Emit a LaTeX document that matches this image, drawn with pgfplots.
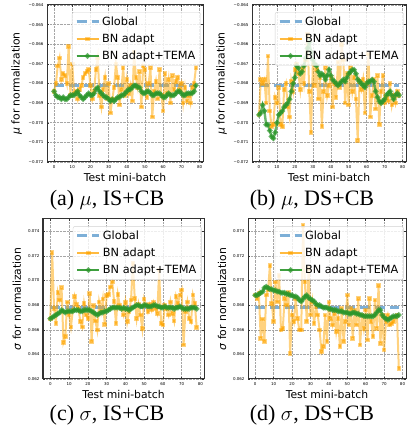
\documentclass[border=0pt]{standalone}
\usepackage{fontspec}
\setmainfont{DejaVu Sans}
\newfontfamily\capfont{Liberation Serif}
\usepackage{pgfplots}
\usepackage{pgfplotstable}
\pgfplotsset{compat=1.18}

% columns: batch, BN adapt, BN adapt+TEMA
\pgfplotstableread{
x bn tema
0 -0.0684 -0.0684
1 -0.0680 -0.0686
2 -0.0671 -0.0687
3 -0.0667 -0.0687
4 -0.0678 -0.0688
5 -0.0675 -0.0687
6 -0.0676 -0.0688
7 -0.0680 -0.0688
8 -0.0661 -0.0687
9 -0.0686 -0.0686
10 -0.0670 -0.0686
11 -0.0685 -0.0686
12 -0.0684 -0.0685
13 -0.0688 -0.0684
14 -0.0683 -0.0686
15 -0.0681 -0.0687
16 -0.0677 -0.0688
17 -0.0675 -0.0687
18 -0.0674 -0.0686
19 -0.0673 -0.0685
20 -0.0681 -0.0686
21 -0.0688 -0.0686
22 -0.0684 -0.0685
23 -0.0673 -0.0683
24 -0.0667 -0.0682
25 -0.0686 -0.0684
26 -0.0692 -0.0685
27 -0.0683 -0.0686
28 -0.0677 -0.0687
29 -0.0688 -0.0687
30 -0.0680 -0.0688
31 -0.0695 -0.0689
32 -0.0688 -0.0688
33 -0.0682 -0.0689
34 -0.0670 -0.0688
35 -0.0677 -0.0687
36 -0.0691 -0.0687
37 -0.0683 -0.0686
38 -0.0672 -0.0686
39 -0.0686 -0.0685
40 -0.0678 -0.0684
41 -0.0685 -0.0683
42 -0.0681 -0.0683
43 -0.0689 -0.0682
44 -0.0664 -0.0681
45 -0.0677 -0.0681
46 -0.0682 -0.0682
47 -0.0674 -0.0682
48 -0.0692 -0.0684
49 -0.0671 -0.0685
50 -0.0673 -0.0685
51 -0.0687 -0.0684
52 -0.0680 -0.0684
53 -0.0672 -0.0685
54 -0.0697 -0.0686
55 -0.0684 -0.0686
56 -0.0679 -0.0685
57 -0.0688 -0.0685
58 -0.0673 -0.0685
59 -0.0686 -0.0686
60 -0.0694 -0.0687
61 -0.0675 -0.0687
62 -0.0685 -0.0686
63 -0.0678 -0.0685
64 -0.0690 -0.0686
65 -0.0676 -0.0686
66 -0.0683 -0.0686
67 -0.0679 -0.0685
68 -0.0677 -0.0684
69 -0.0683 -0.0684
70 -0.0680 -0.0685
71 -0.0690 -0.0686
72 -0.0682 -0.0686
73 -0.0689 -0.0685
74 -0.0686 -0.0685
75 -0.0690 -0.0685
76 -0.0682 -0.0685
77 -0.0680 -0.0684
78 -0.0672 -0.0681
}\muIS

\pgfplotstableread{
x bn tema
0 -0.0696 -0.0696
1 -0.0678 -0.0695
2 -0.0680 -0.0691
3 -0.0678 -0.0694
4 -0.0690 -0.0701
5 -0.0666 -0.0701
6 -0.0694 -0.0704
7 -0.0702 -0.0707
8 -0.0701 -0.0708
9 -0.0687 -0.0705
10 -0.0690 -0.0700
11 -0.0682 -0.0696
12 -0.0701 -0.0695
13 -0.0702 -0.0694
14 -0.0683 -0.0692
15 -0.0680 -0.0691
16 -0.0692 -0.0690
17 -0.0697 -0.0688
18 -0.0679 -0.0684
19 -0.0684 -0.0680
20 -0.0673 -0.0677
21 -0.0670 -0.0671
22 -0.0675 -0.0672
23 -0.0683 -0.0675
24 -0.0673 -0.0674
25 -0.0680 -0.0671
26 -0.0668 -0.0667
27 -0.0655 -0.0662
28 -0.0684 -0.0659
29 -0.0705 -0.0664
30 -0.0670 -0.0668
31 -0.0681 -0.0670
32 -0.0673 -0.0671
33 -0.0688 -0.0674
34 -0.0677 -0.0676
35 -0.0702 -0.0675
36 -0.0684 -0.0676
37 -0.0672 -0.0678
38 -0.0686 -0.0676
39 -0.0681 -0.0673
40 -0.0677 -0.0676
41 -0.0692 -0.0678
42 -0.0680 -0.0679
43 -0.0687 -0.0680
44 -0.0669 -0.0681
45 -0.0682 -0.0680
46 -0.0660 -0.0679
47 -0.0668 -0.0678
48 -0.0690 -0.0679
49 -0.0675 -0.0677
50 -0.0691 -0.0675
51 -0.0672 -0.0674
52 -0.0684 -0.0673
53 -0.0677 -0.0673
54 -0.0688 -0.0675
55 -0.0709 -0.0678
56 -0.0679 -0.0679
57 -0.0683 -0.0680
58 -0.0678 -0.0681
59 -0.0695 -0.0682
60 -0.0680 -0.0680
61 -0.0665 -0.0679
62 -0.0697 -0.0679
63 -0.0686 -0.0678
64 -0.0678 -0.0679
65 -0.0693 -0.0684
66 -0.0676 -0.0687
67 -0.0701 -0.0689
68 -0.0684 -0.0690
69 -0.0676 -0.0689
70 -0.0690 -0.0688
71 -0.0687 -0.0686
72 -0.0689 -0.0685
73 -0.0680 -0.0684
74 -0.0691 -0.0686
75 -0.0686 -0.0688
76 -0.0690 -0.0686
77 -0.0684 -0.0685
78 -0.0686 -0.0686
}\muDS

\pgfplotstableread{
x bn tema
0 0.06686 0.0669
1 0.07227 0.0670
2 0.06773 0.0671
3 0.06651 0.0672
4 0.06903 0.0673
5 0.06841 0.0674
6 0.06941 0.0676
7 0.06497 0.0675
8 0.06543 0.0674
9 0.06827 0.0675
10 0.06719 0.0675
11 0.06624 0.0675
12 0.06759 0.0675
13 0.06868 0.0676
14 0.06805 0.0676
15 0.06773 0.0676
16 0.06665 0.0675
17 0.06624 0.0675
18 0.06814 0.0676
19 0.06719 0.0676
20 0.06692 0.0676
21 0.06895 0.0676
22 0.06503 0.0675
23 0.06795 0.0674
24 0.06670 0.0673
25 0.06597 0.0672
26 0.06827 0.0673
27 0.06746 0.0674
28 0.06849 0.0674
29 0.06643 0.0675
30 0.06876 0.0675
31 0.06886 0.0676
32 0.06949 0.0677
33 0.06989 0.0678
34 0.06832 0.0678
35 0.06651 0.0678
36 0.06886 0.0678
37 0.06800 0.0678
38 0.06768 0.0677
39 0.06719 0.0678
40 0.06822 0.0677
41 0.06665 0.0677
42 0.06746 0.0676
43 0.06841 0.0677
44 0.07138 0.0678
45 0.06854 0.0679
46 0.06692 0.0680
47 0.06805 0.0680
48 0.06719 0.0679
49 0.06611 0.0679
50 0.06849 0.0680
51 0.06800 0.0680
52 0.06746 0.0679
53 0.06805 0.0679
54 0.06759 0.0679
55 0.06822 0.0680
56 0.06773 0.0680
57 0.06732 0.0679
58 0.07084 0.0679
59 0.06651 0.0678
60 0.06638 0.0678
61 0.06800 0.0679
62 0.06768 0.0678
63 0.06719 0.0678
64 0.06827 0.0678
65 0.06732 0.0678
66 0.06670 0.0677
67 0.06868 0.0678
68 0.06814 0.0678
69 0.06881 0.0679
70 0.06922 0.0678
71 0.06476 0.0677
72 0.06746 0.0677
73 0.06827 0.0677
74 0.06692 0.0677
75 0.06665 0.0678
76 0.06881 0.0678
77 0.06814 0.0678
78 0.06616 0.0677
}\sdIS

\pgfplotstableread{
x bn tema
0 0.06881 0.0688
1 0.06854 0.0688
2 0.06895 0.0689
3 0.06530 0.0690
4 0.06686 0.0691
5 0.06503 0.0694
6 0.06881 0.0695
7 0.06922 0.0694
8 0.07124 0.0693
9 0.06814 0.0693
10 0.06665 0.0692
11 0.06989 0.0692
12 0.06827 0.0691
13 0.07043 0.0691
14 0.06597 0.0690
15 0.06611 0.0690
16 0.06854 0.0690
17 0.06800 0.0689
18 0.06908 0.0689
19 0.06408 0.0688
20 0.06719 0.0688
21 0.06665 0.0687
22 0.06854 0.0687
23 0.06692 0.0686
24 0.06597 0.0684
25 0.06597 0.0683
26 0.07449 0.0685
27 0.06989 0.0687
28 0.06665 0.0688
29 0.07097 0.0686
30 0.06719 0.0685
31 0.06827 0.0684
32 0.06651 0.0683
33 0.06786 0.0681
34 0.06719 0.0680
35 0.06597 0.0680
36 0.06422 0.0679
37 0.06462 0.0678
38 0.06719 0.0678
39 0.06503 0.0678
40 0.06827 0.0677
41 0.06692 0.0677
42 0.06638 0.0676
43 0.06732 0.0676
44 0.06584 0.0676
45 0.06692 0.0675
46 0.06462 0.0675
47 0.06773 0.0675
48 0.06503 0.0674
49 0.06665 0.0674
50 0.06881 0.0674
51 0.06638 0.0673
52 0.06773 0.0673
53 0.06530 0.0674
54 0.06759 0.0674
55 0.06638 0.0673
56 0.06854 0.0673
57 0.06476 0.0672
58 0.06719 0.0672
59 0.06611 0.0671
60 0.06759 0.0671
61 0.06516 0.0671
62 0.06854 0.0671
63 0.06665 0.0671
64 0.06543 0.0671
65 0.06841 0.0672
66 0.06611 0.0674
67 0.06962 0.0676
68 0.06489 0.0676
69 0.06719 0.0672
70 0.06435 0.0670
71 0.06665 0.0669
72 0.06719 0.0668
73 0.06638 0.0669
74 0.06651 0.0670
75 0.06665 0.0671
76 0.06705 0.0671
77 0.06719 0.0671
78 0.06286 0.0672
}\sdDS

\definecolor{globalc}{RGB}{125,175,215}
\definecolor{bnc}{RGB}{255,165,0}
\definecolor{temac}{RGB}{44,150,44}

\pgfplotsset{
  panel/.style={
    scale only axis, anchor=south west,
    xmin=-3.9, xmax=81.9, xtick={0,10,...,80},
    grid=major, grid style={densely dotted, gray!70, line width=0.5pt},
    tick align=inside, major tick length=2pt,
    tick style={black!80, line width=0.4pt},
    axis line style={black!80, line width=1pt},
    ticklabel style={font=\fontsize{4}{4}\selectfont},
    /pgf/number format/assume math mode=true,
    scaled y ticks=false,
    xlabel={Test mini-batch},
    label style={font=\fontsize{10.8}{12}\selectfont},
    xlabel style={yshift=2pt},
    legend cell align=left,
    legend style={at={(0.985,0.955)}, anchor=north east,
      draw=gray!35, rounded corners=2pt, fill=white, fill opacity=0.8,
      text opacity=1, font=\fontsize{11.3}{12}\selectfont,
      inner xsep=3pt, inner ysep=2.5pt, row sep=3pt},
  },
  muaxis/.style={ymin=-0.072, ymax=-0.064,
    ytick={-0.072,-0.071,-0.070,-0.069,-0.068,-0.067,-0.066,-0.065,-0.064},
    yticklabels={−0.072,−0.071,−0.070,−0.069,−0.068,−0.067,−0.066,−0.065,−0.064},
    ylabel={{\itshape μ} for normalization}},
  sdaxis/.style={ymin=0.062, ymax=0.075,
    ytick={0.062,0.064,0.066,0.068,0.070,0.072,0.074},
    yticklabels={0.062,0.064,0.066,0.068,0.070,0.072,0.074},
    ylabel={{\itshape σ} for normalization}},
  globline/.style={globalc, line width=3pt, dash pattern=on 10pt off 5pt},
  bnline/.style={bnc, opacity=0.5, line width=2pt, mark=square*, mark size=1.3pt,
    mark options={solid}},
  temaline/.style={temac, opacity=0.7, line width=2.4pt, mark=*, mark size=1.4pt},
  legend image code/.code={\draw[#1] (0pt,0pt) -- (22pt,0pt);
    \draw[#1, mark repeat=2, mark phase=2] plot coordinates {(0pt,0pt) (11pt,0pt) (22pt,0pt)};},
}

\begin{document}
\begin{tikzpicture}
\path[use as bounding box] (0,0) rectangle (407pt,430pt);

\begin{axis}[panel, muaxis, at={(47pt,268pt)}, width=156pt, height=157pt]
\addplot[globline] coordinates {(0,-0.0681) (78,-0.0681)};
\addplot[bnline] table[x=x, y=bn] {\muIS};
\addplot[temaline] table[x=x, y=tema] {\muIS};
\legend{Global, BN adapt, BN adapt+TEMA}
\end{axis}

\begin{axis}[panel, muaxis, at={(252pt,268pt)}, width=154pt, height=157pt]
\addplot[globline] coordinates {(0,-0.0681) (78,-0.0681)};
\addplot[bnline] table[x=x, y=bn] {\muDS};
\addplot[temaline] table[x=x, y=tema] {\muDS};
\legend{Global, BN adapt, BN adapt+TEMA}
\end{axis}

\begin{axis}[panel, sdaxis, at={(43pt,51pt)}, width=161pt, height=160pt]
\addplot[globline] coordinates {(0,0.0678) (78,0.0678)};
\addplot[bnline] table[x=x, y=bn] {\sdIS};
\addplot[temaline] table[x=x, y=tema] {\sdIS};
\legend{Global, BN adapt, BN adapt+TEMA}
\end{axis}

\begin{axis}[panel, sdaxis, at={(248pt,51pt)}, width=158pt, height=160pt]
\addplot[globline] coordinates {(0,0.0678) (78,0.0678)};
\addplot[bnline] table[x=x, y=bn] {\sdDS};
\addplot[temaline] table[x=x, y=tema] {\sdDS};
\legend{Global, BN adapt, BN adapt+TEMA}
\end{axis}

\node[font=\capfont\fontsize{22}{22}\selectfont] at (107pt,230pt) {(a) $\mu$, IS+CB};
\node[font=\capfont\fontsize{22}{22}\selectfont] at (312pt,230pt) {(b) $\mu$, DS+CB};
\node[font=\capfont\fontsize{22}{22}\selectfont] at (107pt,15pt) {(c) $\sigma$, IS+CB};
\node[font=\capfont\fontsize{22}{22}\selectfont] at (312pt,15pt) {(d) $\sigma$, DS+CB};
\end{tikzpicture}
\end{document}
